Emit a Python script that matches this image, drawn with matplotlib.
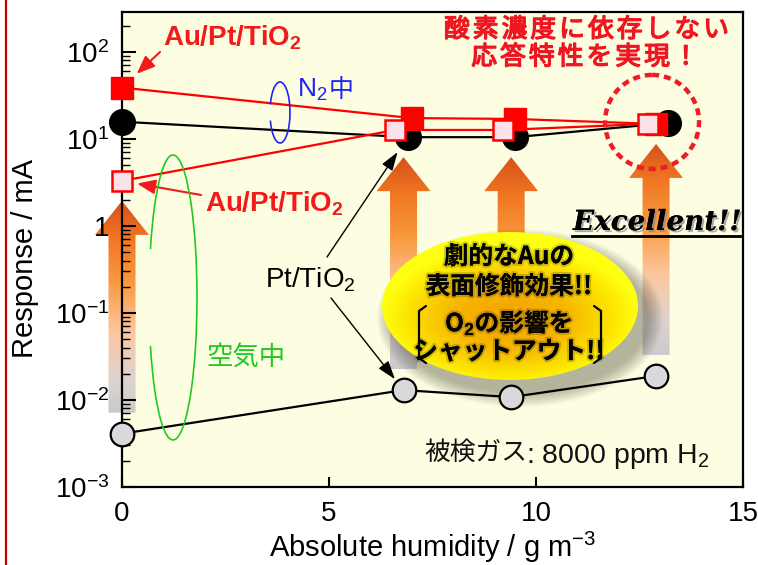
import numpy as np
import matplotlib
matplotlib.use("Agg")
import matplotlib.pyplot as plt
from matplotlib.patches import Polygon, Ellipse, Arc, Circle
from matplotlib.transforms import Affine2D
from matplotlib.colors import LinearSegmentedColormap
from matplotlib.ticker import LogLocator, NullFormatter, NullLocator
from matplotlib.lines import Line2D
import matplotlib.patheffects as pe

CJK = "Noto Sans CJK JP"
LAT = "Liberation Sans"
plt.rcParams["font.family"] = [LAT, CJK, "DejaVu Sans"]
plt.rcParams["mathtext.fontset"] = "custom"
plt.rcParams["mathtext.rm"] = LAT
plt.rcParams["mathtext.it"] = LAT + ":italic"
plt.rcParams["mathtext.bf"] = LAT + ":bold"

# Sensor response (mA) vs. absolute humidity (g m^-3), 8000 ppm H2
hum_au_n2 = [0.0, 7.0, 9.5, 12.9]          # Au/Pt/TiO2 in N2
resp_au_n2 = [39.0, 17.4, 17.0, 14.9]
hum_pt_n2 = [0.0, 6.9, 9.5, 13.2]          # Pt/TiO2 in N2
resp_pt_n2 = [15.8, 10.5, 10.5, 15.3]
hum_au_air = [0.0, 6.6, 9.2, 12.7]         # Au/Pt/TiO2 in air
resp_au_air = [3.3, 12.7, 12.7, 14.9]
hum_pt_air = [0.0, 6.8, 9.4, 12.9]         # Pt/TiO2 in air
resp_pt_air = [0.0041, 0.0130, 0.0108, 0.0189]

x_ticks = [0, 5, 10, 15]
x_tick_labels = ["0", "5", "10", "15"]
y_ticks = [1e-3, 1e-2, 1e-1, 1, 1e1, 1e2]
y_tick_labels = [r"$\mathregular{10^{-3}}$", r"$\mathregular{10^{-2}}$",
                 r"$\mathregular{10^{-1}}$", r"$\mathregular{1}\hspace{0.55}$",
                 r"$\mathregular{10^{1}}$", r"$\mathregular{10^{2}}$"]

W, H = 758, 565
fig = plt.figure(figsize=(W / 100, H / 100), dpi=100, facecolor="white")
ax = fig.add_axes([122 / W, 1 - 487 / H, 621 / W, 475 / H])
ax.set_facecolor("#fdfde2")
ax.set_yscale("log")
XLIM = (0, 15)
YLIM = (1e-3, 10 ** 2.46)
ax.set_xlim(*XLIM)
ax.set_ylim(*YLIM)
ax.set_autoscale_on(False)

# pixel frame (origin top-left, y downward) for the decorations
PX = Affine2D().scale(1, -1).translate(0, H)


def to_px(x, y):
    dx, dy = ax.transData.transform((x, y))
    return dx, H - dy


# ---- big gradient arrows (improvement from air to N2 level) ----
arrow_cmap = LinearSegmentedColormap.from_list(
    "rise", [(0, "#d6501a"), (0.17, "#f07622"), (0.38, "#f9993e"),
             (0.62, "#fcc7a0"), (0.85, "#dcd4d0"), (1, "#cbc9cd")])
grad = np.linspace(0, 1, 256)[:, None]
for i in range(len(hum_pt_air)):
    cx, y_low = to_px(hum_pt_air[i], resp_pt_air[i])
    top = min(resp_au_air[i], resp_pt_n2[i], resp_au_n2[i])
    _, y_high = to_px(hum_pt_air[i], top)
    tip, base = y_high + 20, y_low - 21
    hl, hw, sw = 34, 27, 13.5
    verts = [(cx, tip), (cx + hw, tip + hl), (cx + sw, tip + hl), (cx + sw, base),
             (cx - sw, base), (cx - sw, tip + hl), (cx - hw, tip + hl)]
    shape = Polygon(verts, closed=True, transform=PX)
    im = ax.imshow(grad, cmap=arrow_cmap, extent=(cx - hw, cx + hw, base, tip),
                   transform=PX, aspect="auto", interpolation="bilinear", zorder=1.5)
    im.set_clip_path(shape)
    im.set_clip_box(fig.bbox)

# ---- yellow callout ellipse with soft shadow ----
ecx, ecy, ew, eh = 510, 306, 256, 148
for k in range(12):
    g = 30 - 2.6 * k
    ax.add_patch(Ellipse((ecx + 10, ecy + 12), ew + g, eh + g, transform=PX,
                         fc="#3a3a2a", ec="none", alpha=0.035, zorder=2))
ny, nx = 240, 400
yy, xx = np.mgrid[-1:1:ny * 1j, -1:1:nx * 1j]
rr = np.clip(np.hypot(xx, (yy - 0.15) * 1.05), 0, 1)
ell_cmap = LinearSegmentedColormap.from_list(
    "glow", [(0, "#f3a200"), (0.45, "#f6b600"), (0.8, "#fde400"), (1, "#ffff10")])
ell = Ellipse((ecx, ecy), ew, eh, transform=PX)
im = ax.imshow(rr, cmap=ell_cmap, vmin=0, vmax=1,
               extent=(ecx - ew / 2, ecx + ew / 2, ecy + eh / 2, ecy - eh / 2),
               transform=PX, aspect="auto", interpolation="bilinear", zorder=2.1)
im.set_clip_path(ell)
im.set_clip_box(fig.bbox)

halo = [pe.withStroke(linewidth=3, foreground=(0, 0, 0, 0.18))]
ell_lines = ["劇的なAuの", "表面修飾効果!!", r"O$_\mathbf{2}$の影響を", "シャットアウト!!"]
ell_y = [257, 287, 323, 352]
for s, yv in zip(ell_lines, ell_y):
    ax.text(ecx - 1, yv, s, transform=PX, ha="center", va="center", fontsize=17.8,
            fontweight="bold", family=[CJK, LAT], color="black", zorder=2.3,
            path_effects=halo)
for side in (-1, 1):
    xb = ecx + side * 91
    ax.add_line(Line2D([xb - side * 7, xb, xb, xb - side * 7], [306, 311, 358, 363],
                       transform=PX, color="black", lw=1.6, zorder=2.3,
                       solid_joinstyle="round", solid_capstyle="round"))

# ---- data ----
ax.plot(hum_pt_air, resp_pt_air, color="black", lw=1.6, marker="o", ms=17,
        mfc="#d9d9db", mec="black", mew=1.6, zorder=4, clip_on=False)
ax.plot(hum_pt_n2, resp_pt_n2, color="black", lw=1.6, marker="o", ms=18.5,
        mfc="black", mec="black", zorder=5, clip_on=False)
ax.plot(hum_au_n2, resp_au_n2, color="#ff0000", lw=1.6, marker="s", ms=15.5,
        mfc="#ff0000", mec="#ff0000", zorder=6, clip_on=False)
ax.plot(hum_au_air, resp_au_air, color="#ff0000", lw=1.6, marker="s", ms=14.5,
        mfc="#fde1e9", mec="#ff0000", mew=1.8, zorder=7, clip_on=False)

# dashed ring around the converged high-humidity points
rx, ry = to_px(hum_au_n2[3], resp_au_n2[3])
ax.add_patch(Circle((rx - 4, ry - 2), 47, transform=PX, fill=False, ec="#ee1c24",
                    lw=3.2, ls=(0, (1.6, 1.1)), zorder=8, clip_on=False))

# ---- axes styling ----
for sp in ax.spines.values():
    sp.set_linewidth(1.6)
ax.set_xticks(x_ticks, labels=x_tick_labels)
ax.set_yticks(y_ticks, labels=y_tick_labels)
ax.yaxis.set_minor_locator(LogLocator(base=10, subs=np.arange(2, 10), numticks=100))
ax.yaxis.set_minor_formatter(NullFormatter())
ax.xaxis.set_minor_locator(NullLocator())
ax.tick_params(which="both", direction="in", top=False, right=False)
ax.tick_params(axis="y", which="major", length=10, width=1.5, pad=9, labelsize=20)
ax.tick_params(axis="y", which="minor", length=6, width=1.0)
ax.tick_params(axis="x", which="major", length=7, width=1.5, pad=10, labelsize=20)
ax.set_xlim(*XLIM)
ax.set_ylim(*YLIM)

ax.set_xlabel(r"Absolute humidity / g m$^{\mathregular{-3}}$", fontsize=21)
ax.xaxis.set_label_coords(0.5, -0.09)
ax.set_ylabel("Response / mA", fontsize=21)
ax.yaxis.set_label_coords(-0.134, 0.482)

# ---- annotations ----
red = "#f21a1a"
ax.text(163, 45, r"$\mathbf{Au/Pt/TiO_2}$", transform=PX, color=red, fontsize=20,
        ha="left", va="baseline", zorder=9)
ax.text(205, 212, r"$\mathbf{Au/Pt/TiO_2}$", transform=PX, color=red, fontsize=20,
        ha="left", va="baseline", zorder=9)
red_arrow = dict(arrowstyle="-|>,head_length=0.55,head_width=0.22", color=red,
                 lw=1.5, mutation_scale=20, shrinkA=0)
ax.annotate("", xy=(hum_au_n2[0], resp_au_n2[0]), xytext=(160, 52), textcoords=PX,
            arrowprops=dict(red_arrow, shrinkB=14.5), zorder=9, annotation_clip=False)
ax.annotate("", xy=(hum_au_air[0], resp_au_air[0]), xytext=(201, 195), textcoords=PX,
            arrowprops=dict(red_arrow, shrinkB=11), zorder=9, annotation_clip=False)

ax.text(265, 287, r"Pt/TiO$_2$", transform=PX, color="black", fontsize=20,
        ha="left", va="baseline", zorder=9)
blk_arrow = dict(arrowstyle="-|>,head_length=0.75,head_width=0.25", color="black",
                 lw=1.0, mutation_scale=15, shrinkA=0)
ax.annotate("", xy=(hum_pt_n2[1], resp_pt_n2[1]), xytext=(327, 257), textcoords=PX,
            arrowprops=dict(blk_arrow, shrinkB=13), zorder=9)
ax.annotate("", xy=(hum_pt_air[1], resp_pt_air[1]), xytext=(331, 298), textcoords=PX,
            arrowprops=dict(blk_arrow, shrinkB=10), zorder=9)

# N2 / air group marks
blue = "#1f25f0"
ax.add_patch(Arc((280, 112.5), 20, 61, theta1=-140, theta2=140, transform=PX,
                 color=blue, lw=1.2, zorder=9))
ax.text(297, 97, r"N$_2$", transform=PX, color=blue, fontsize=19, ha="left",
        va="baseline", zorder=9)
ax.text(341, 90, "中", transform=PX, color=blue, fontsize=18, family=[CJK],
        ha="center", va="center", zorder=9)
green = "#22c922"
ax.add_patch(Arc((173, 297.5), 48, 285, theta1=-115, theta2=115, transform=PX,
                 color=green, lw=1.2, zorder=9))
ax.text(246, 357, "空気中", transform=PX, color=green, fontsize=19, family=[CJK],
        ha="center", va="center", zorder=9)


def spaced(s, cx, cy, pitch, **kw):
    x0 = cx - pitch * (len(s) - 1) / 2
    for k, ch in enumerate(s):
        ax.text(x0 + k * pitch, cy, ch, transform=PX, ha="center", va="center", **kw)


heading = dict(color="#ee1620", fontsize=18.5, family=[CJK], fontweight="normal",
               zorder=9, path_effects=[pe.withStroke(linewidth=1.0, foreground="#ee1620")])
spaced("酸素濃度に依存しない", 586.5, 30, 28.8, **heading)
spaced("応答特性を実現！", 585, 57.5, 28.8, **heading)

# Excellent!!
shadow = [pe.withSimplePatchShadow(offset=(1.5, -1.5), shadow_rgbFace="#888888", alpha=0.7),
          pe.Normal()]
ax.text(573, 230, "Excellent!!", transform=PX, fontsize=20, family="DejaVu Serif",
        fontweight="bold", fontstyle="italic", color="black", ha="left",
        va="baseline", zorder=9, path_effects=shadow)
ax.add_line(Line2D([572, 740], [236, 236], transform=PX, color="black", lw=1.8,
                   zorder=9, path_effects=shadow))

# test gas
ax.text(424, 460, "被検ガス", transform=PX, fontsize=18.5, family=[CJK], color="#111111",
        ha="left", va="baseline", zorder=9)
ax.text(526, 463, r": 8000 ppm H$_2$", transform=PX, fontsize=20.5, color="#111111",
        ha="left", va="baseline", zorder=9)

# frame line at the left edge of the panel
fig.add_artist(Line2D([5.5 / W, 5.5 / W], [0, 1], transform=fig.transFigure,
                      color="#c80000", lw=1.6))

fig.savefig("out.png", dpi=100, facecolor="white")
